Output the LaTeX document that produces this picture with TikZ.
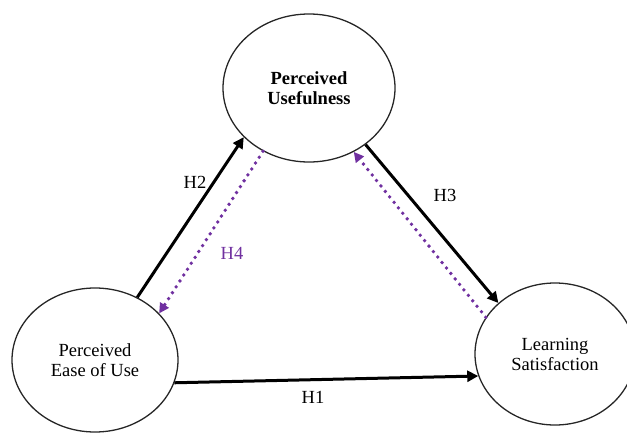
\documentclass[tikz,border=0pt]{standalone}
\usepackage{fontspec}
\setmainfont{Liberation Serif}
\usepackage{tikz}
\usetikzlibrary{shapes.geometric,arrows.meta}
\definecolor{hpurple}{HTML}{7030A0}

\begin{document}
\begin{tikzpicture}[x=1pt,y=-1pt]

\tikzstyle{construct}=[ellipse,draw=black!85,line width=1.3pt,inner sep=0pt,align=center,font=\fontsize{18.5}{20}\selectfont]
\tikzstyle{direct}=[line width=3pt,-{Triangle[length=11pt,width=11pt]}]
\tikzstyle{reverse}=[hpurple,line width=3.8pt,line cap=round,dash pattern=on 0pt off 7pt,-{Triangle[length=10pt,width=10pt]}]
\tikzstyle{hlabel}=[font=\fontsize{18.5}{20}\selectfont]

\useasboundingbox (0,0) rectangle (627,434);
\clip (0,0) rectangle (627,434);

\node[construct,minimum width=172pt,minimum height=148pt,font=\fontsize{18.5}{20}\selectfont\bfseries] (pu) at (309,88) {Perceived\\Usefulness};
\node[construct,minimum width=166pt,minimum height=144pt] (peou) at (95,360) {Perceived\\Ease of Use};
\node[construct,minimum width=160pt,minimum height=142pt] (ls) at (555,354) {Learning\\Satisfaction};

\draw[direct] (peou.56) -- (pu.217);
\draw[reverse] (pu.234) -- (peou.36);
\draw[direct] (pu.315) -- (ls.138);
\draw[reverse] (ls.152) -- (pu.305);
\draw[direct] (peou.-16) -- (ls.196);

\node[hlabel] (h2) at (195,182) {H2};
\node[hlabel,text=hpurple] (h4) at (232,253) {H4};
\node[hlabel] (h3) at (445,195) {H3};
\node[hlabel] (h1) at (313,397) {H1};
\end{tikzpicture}
\end{document}
